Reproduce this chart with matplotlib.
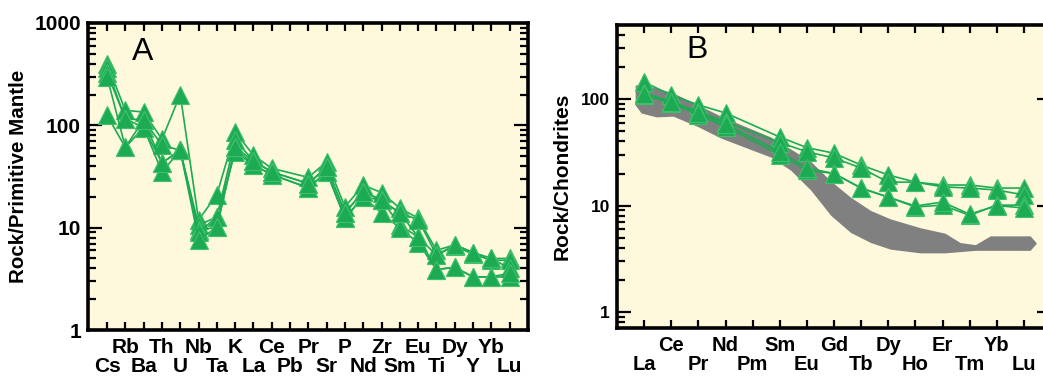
import numpy as np
import matplotlib.pyplot as plt
from matplotlib.ticker import FixedLocator, FixedFormatter, NullFormatter, LogLocator

plt.rcParams['font.family'] = ['Liberation Sans', 'DejaVu Sans']

nan = np.nan

# ---- Panel A: primitive-mantle normalised spider diagram ----
pm_elements = ['Cs', 'Rb', 'Ba', 'Th', 'U', 'Nb', 'Ta', 'K', 'La', 'Ce', 'Pb', 'Pr',
               'Sr', 'P', 'Nd', 'Zr', 'Sm', 'Eu', 'Ti', 'Dy', 'Y', 'Yb', 'Lu']
# Pb not analysed
pm_s1 = [400, 140, 135, 73, 200, 11.9, 21, 86, 51, 38, nan, 31, 44, 16, 26, 22, 15.5, 12.4, 6.0, 6.8, 5.7, 5.0, 5.0]
pm_s2 = [360, 116, 113, 64, 57, 10.6, 12.7, 72, 45, 35, nan, 27, 39, 14, 22.4, 18.6, 13.9, 12.0, 5.4, 6.6, 5.5, 4.8, 4.8]
pm_s3 = [325, 116, 95, 43, 57, 9.5, 10.1, 61, 41, 33, nan, 24.5, 35, 12.4, 20, 18.6, 10.6, 8.1, 5.4, 6.8, 5.7, 5.0, 4.0]
pm_s4 = [300, 61, 95, 35, 57, 9.0, 12.7, 55, 41, 33, nan, 24.5, 35, 12.4, 20, 13.9, 9.9, 7.1, 3.9, 4.1, 3.3, 3.3, 3.3]
pm_s5 = [125, 61, 113, 43, 57, 7.6, 10.1, 61, 45, 35, nan, 27, 39, 14, 22.4, 18.6, 13.9, 8.1, 3.9, 4.1, 3.3, 3.3, 3.6]

# ---- Panel B: chondrite-normalised REE ----
ree_elements = ['La', 'Ce', 'Pr', 'Nd', 'Pm', 'Sm', 'Eu', 'Gd', 'Tb', 'Dy', 'Ho', 'Er', 'Tm', 'Yb', 'Lu']
# Pm not analysed
ree_s1 = [144, 109, 88, 74, nan, 44, 35, 31, 24, 19.4, 16.6, 15.6, 15.6, 14.6, 14.6]
ree_s2 = [114, 94, 76, 61, nan, 39, 32, 28, 22.5, 16.6, 16.6, 15.0, 14.6, 14.0, 12.6]
ree_s3 = [109, 92, 71, 55, nan, 30, 21.5, 20, 14.6, 12.0, 9.7, 10.1, 8.1, 10.1, 10.1]
ree_s4 = [112, 94, 74, 58, nan, 32, 22.5, 20, 14.6, 12.0, 9.9, 10.8, 8.3, 10.0, 9.5]

# grey reference field (position along REE axis, lower / upper bound)
band_pos = [-0.33, -0.11, 0.44, 1.07, 1.99, 2.83, 3.75, 4.67, 5.40, 6.14, 6.88, 7.61,
            8.35, 9.08, 10.18, 11.10, 11.65, 12.21, 12.76, 14.23, 14.45]
band_hi = [135, 138, 127, 114, 88, 69, 55, 44, 34, 26, 17, 12,
           9.0, 7.5, 6.2, 5.5, 4.5, 4.3, 5.2, 5.2, 4.5]
band_lo = [88, 74, 68, 69, 55, 43, 35, 28.5, 21.5, 14, 8.1, 5.6,
           4.5, 3.9, 3.6, 3.6, 3.7, 3.8, 3.8, 3.8, 4.4]

bg = '#fef9dc'
green = '#1cab52'
green_edge = '#40c06c'


def draw_samples(ax, samples):
    for s in samples:
        s = np.array(s, dtype=float)
        idx = np.arange(len(s))
        ok = ~np.isnan(s)
        ax.plot(idx[ok], s[ok], color=green, lw=1.2, marker='^', ms=12.5,
                mfc=green, mec=green_edge, mew=0.8, zorder=3)


def style_axes(ax, elements, xfs, yfs):
    ax.set_facecolor(bg)
    ax.set_yscale('log')
    for sp in ax.spines.values():
        sp.set_linewidth(2.6)
        sp.set_color('black')
    n = len(elements)
    even = list(range(0, n, 2))
    odd = list(range(1, n, 2))
    ax.xaxis.set_major_locator(FixedLocator(even))
    ax.xaxis.set_major_formatter(FixedFormatter([elements[i] for i in even]))
    ax.xaxis.set_minor_locator(FixedLocator(odd))
    ax.xaxis.set_minor_formatter(FixedFormatter([elements[i] for i in odd]))
    ax.tick_params(axis='x', which='both', direction='in', top=True, length=6, width=1.6)
    ax.tick_params(axis='x', which='major', pad=19.5, labelsize=xfs)
    ax.tick_params(axis='x', which='minor', pad=6, labelsize=xfs)
    for lab in ax.get_xticklabels(which='both'):
        lab.set_fontweight('bold')
    ax.yaxis.set_minor_locator(LogLocator(base=10, subs=np.arange(2, 10)))
    ax.yaxis.set_minor_formatter(NullFormatter())
    ax.tick_params(axis='y', which='both', direction='in', right=True, width=1.6)
    ax.tick_params(axis='y', which='major', length=10, pad=5, labelsize=yfs)
    ax.tick_params(axis='y', which='minor', length=6)


fig = plt.figure(figsize=(10.43, 3.76), dpi=100)

# Panel A
axA = fig.add_axes([88 / 1043, 46 / 376, 440 / 1043, 307 / 376])
draw_samples(axA, [pm_s1, pm_s2, pm_s3, pm_s4, pm_s5])
style_axes(axA, pm_elements, 15, 15)
axA.set_xlim(-1.04, 23)
axA.set_ylim(1, 1000)
axA.set_yticks([1, 10, 100, 1000])
axA.set_yticklabels(['1', '10', '100', '1000'], fontweight='bold')
axA.set_ylabel('Rock/Primitive Mantle', fontsize=14.8, fontweight='bold')
axA.yaxis.set_label_coords(-0.137, 0.5)
axA.text(0.125, 0.905, 'A', transform=axA.transAxes, fontsize=23,
         ha='center', va='center')

# Panel B
axB = fig.add_axes([617 / 1043, 48 / 376, 434 / 1043, 303 / 376])
axB.fill_between(band_pos, band_lo, band_hi, color='#808080', lw=0, zorder=2)
draw_samples(axB, [ree_s1, ree_s2, ree_s3, ree_s4])
style_axes(axB, ree_elements, 14.5, 12.5)
axB.set_xlim(-1, 15)
axB.set_ylim(0.71, 495)
axB.set_yticks([1, 10, 100])
axB.set_yticklabels(['1', '10', '100'], fontweight='bold')
axB.set_ylabel('Rock/Chondrites', fontsize=15, fontweight='bold')
axB.yaxis.set_label_coords(-0.104, 0.5)
axB.text(0.184, 0.917, 'B', transform=axB.transAxes, fontsize=23,
         ha='center', va='center')

fig.savefig('out.png', dpi=100)
